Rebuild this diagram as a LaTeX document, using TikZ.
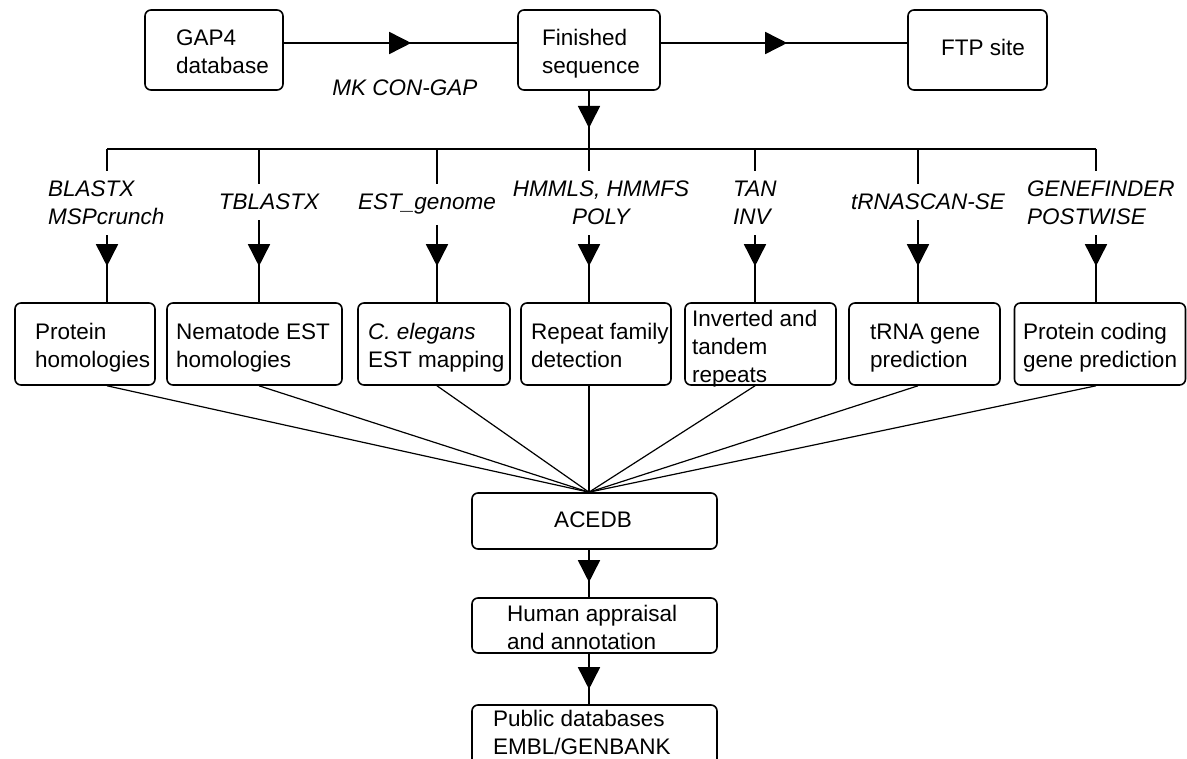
\documentclass[tikz,border=0pt]{standalone}
\usepackage{fontspec}
\setmainfont{Liberation Sans}
\usetikzlibrary{arrows.meta,decorations.markings,calc}
\begin{document}
\begin{tikzpicture}[x=1pt,y=-1pt,
  box/.style={draw, line width=1.6pt, rounded corners=6pt, inner sep=0pt},
  txt/.style={inner sep=0pt, align=left, anchor=base west, font=\fontsize{22.5}{28}\selectfont},
  tool/.style={inner xsep=0pt, inner ysep=10pt, font=\fontsize{22.5}{28}\selectfont\itshape},
  link/.style={line width=1.6pt},
  feed/.style={line width=1.2pt},
  flow/.style={line width=1.6pt, postaction={decorate},
    decoration={markings, mark=at position #1 with {\arrow{Triangle[length=22pt,width=22pt]}}}}
]
\fill[white] (0,0) rectangle (1187,759);
\clip (0,0) rectangle (1187,759);

% top row (multi-line text is placed by the baseline of its last line)
\node[box, minimum width=138pt, minimum height=80pt] (gap) at (214,50) {};
\node[box, minimum width=142pt, minimum height=80pt] (fin) at (589,50) {};
\node[box, minimum width=139pt, minimum height=80pt] (ftp) at (977.5,50) {};
\node[txt] (tgap) at (176,74) {GAP4\\database};
\node[txt] (tfin) at (542,74) {Finished\\sequence};
\node[txt, anchor=base] (tftp) at (983,56) {FTP site};
\node[tool, anchor=base] (mk) at (405,96) {MK CON-GAP};
\coordinate (toprow) at (0,43);

% analysis boxes
\node[box, minimum width=140pt, minimum height=82pt] (b1) at (85,344) {};
\node[box, minimum width=175pt, minimum height=82pt] (b2) at (254.5,344) {};
\node[box, minimum width=152pt, minimum height=82pt] (b3) at (434,344) {};
\node[box, minimum width=150pt, minimum height=82pt] (b4) at (596,344) {};
\node[box, minimum width=151pt, minimum height=82pt] (b5) at (760.5,344) {};
\node[box, minimum width=151pt, minimum height=82pt] (b6) at (924.5,344) {};
\node[box, minimum width=171pt, minimum height=82pt] (b7) at (1100,344) {};
\node[txt] (t1) at (35,368) {Protein\\homologies};
\node[txt] (t2) at (176,368) {Nematode EST\\homologies};
\node[txt] (t3) at (368,368) {\textit{C. elegans}\\EST mapping};
\node[txt] (t4) at (531,368) {Repeat family\\detection};
\node[txt] (t5) at (692,383) {Inverted and\\tandem\\repeats};
\node[txt] (t6) at (870,368) {tRNA gene\\prediction};
\node[txt] (t7) at (1023,368) {Protein coding\\gene prediction};

% program names
\node[tool, align=left, anchor=base west] (l1) at (48,225) {BLASTX\\MSPcrunch};
\node[tool, anchor=base] (l2) at (269,210) {TBLASTX};
\node[tool, anchor=base] (l3) at (427,210) {EST\_genome};
\node[tool, align=center, anchor=base] (l4) at (601,225) {HMMLS, HMMFS\\POLY};
\node[tool, align=left, anchor=base west] (l5) at (733,225) {TAN\\INV};
\node[tool, anchor=base] (l6) at (928,210) {tRNASCAN-SE};
\node[tool, align=left, anchor=base west] (l7) at (1027,225) {GENEFINDER\\POSTWISE};

% lower chain
\node[box, minimum width=245pt, minimum height=56pt] (acedb) at (594.5,521) {};
\node[txt, anchor=base] (tacedb) at (593,527) {ACEDB};
\node[box, minimum width=245pt, minimum height=55pt] (human) at (594.5,625.5) {};
\node[txt] (thuman) at (507,649) {Human appraisal\\and annotation};
\node[box, minimum width=245pt, minimum height=70pt] (public) at (594.5,740) {};
\node[txt] (tpublic) at (493,754) {Public databases\\EMBL/GENBANK};

% distribution bus
\coordinate (c1) at (107,149);
\coordinate (c2) at (259,149);
\coordinate (c3) at (437,149);
\coordinate (c4) at (589,149);
\coordinate (c5) at (755,149);
\coordinate (c6) at (918,149);
\coordinate (c7) at (1096,149);
\coordinate (hub) at (acedb.north -| c4);

% connectors
\draw[flow=-106pt] (gap.east |- toprow) -- (fin.west |- toprow);
\draw[flow=-120pt] (fin.east |- toprow) -- (ftp.west |- toprow);
\draw[flow=-21pt] (fin.south) -- (c4);
\draw[link] (c1) -- (c7);
\foreach \i in {1,...,7}{
  \draw[link] (c\i) -- (l\i.north -| c\i);
  \draw[flow=-36pt] (l\i.south -| c\i) -- (b\i.north -| c\i);
  \draw[feed] (b\i.south -| c\i) -- (hub);
}
\draw[flow=-15pt] (acedb.south -| hub) -- (human.north -| hub);
\draw[flow=-15pt] (human.south -| hub) -- (public.north -| hub);
\end{tikzpicture}
\end{document}
